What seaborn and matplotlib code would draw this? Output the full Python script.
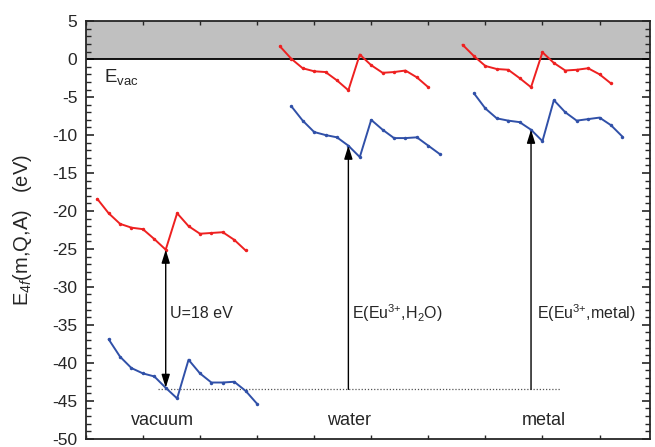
import numpy as np
import pandas as pd
import matplotlib
matplotlib.use("Agg")
import matplotlib.pyplot as plt
from matplotlib.ticker import MultipleLocator, NullFormatter
import seaborn as sns

# ---- data ----
environments = ["vacuum", "water", "metal"]
lanthanide_index = list(range(1, 15))
red_x_start = [1, 17, 33]
blue_x_start = [2, 18, 34]

vacuum_red = [-18.4, -20.3, -21.7, -22.2, -22.4, -23.7, -25.1, -20.3, -22.0, -23.0, -22.9, -22.8, -23.8, -25.2]
vacuum_blue = [-36.9, -39.2, -40.7, -41.4, -41.8, -43.3, -44.7, -39.6, -41.4, -42.6, -42.6, -42.5, -43.7, -45.4]
water_red = [1.7, 0.05, -1.2, -1.6, -1.7, -2.8, -4.1, 0.6, -0.8, -1.8, -1.7, -1.5, -2.4, -3.7]
water_blue = [-6.2, -8.1, -9.6, -10.0, -10.3, -11.4, -12.9, -8.0, -9.3, -10.4, -10.4, -10.3, -11.4, -12.5]
metal_red = [1.9, 0.4, -0.9, -1.3, -1.4, -2.5, -3.7, 0.9, -0.5, -1.5, -1.4, -1.2, -2.0, -3.2]
metal_blue = [-4.5, -6.5, -7.8, -8.1, -8.3, -9.3, -10.8, -5.4, -7.0, -8.1, -7.9, -7.7, -8.7, -10.2]

reference_level = -43.5          # dotted line (Eu3+ in vacuum)
arrow_x = [7, 23, 39]
arrow_top = [-25.1, -11.4, -9.3]
U_value = 18

red_series = [vacuum_red, water_red, metal_red]
blue_series = [vacuum_blue, water_blue, metal_blue]

rows = []
for env, rs, bs, rx0, bx0 in zip(environments, red_series, blue_series, red_x_start, blue_x_start):
    for i, n in enumerate(lanthanide_index):
        rows.append(dict(x=rx0 + n - 1, E=rs[i], env=env, series="red"))
        rows.append(dict(x=bx0 + n - 1, E=bs[i], env=env, series="blue"))
df = pd.DataFrame(rows)

# ---- plot ----
sns.set_style("ticks")
plt.rcParams["font.family"] = ["Liberation Sans", "DejaVu Sans"]
plt.rcParams["mathtext.fontset"] = "custom"
plt.rcParams["mathtext.rm"] = "Liberation Sans"
plt.rcParams["mathtext.it"] = "Liberation Sans:italic"
plt.rcParams["axes.unicode_minus"] = False

fig = plt.figure(figsize=(6.55, 4.47), dpi=100)
ax = fig.add_axes([0.131, 0.0186, 0.861, 0.934])

ax.axhspan(0, 5, color="#c0c0c0", zorder=0, lw=0)
ax.axhline(0, color="black", lw=1.3, zorder=1)

palette = {"red": "#ee2020", "blue": "#3050a8"}
for env in environments:
    sub = df[df.env == env]
    sns.lineplot(data=sub, x="x", y="E", hue="series", palette=palette,
                 estimator=None, sort=False, marker="o", markersize=2.5,
                 markeredgewidth=0, lw=1.4, legend=False, ax=ax, zorder=3)

# dotted reference line
ax.plot([6.3, 41.5], [reference_level, reference_level], ls=(0, (1, 1.5)),
        color="#555555", lw=0.9, zorder=2)

# arrows
ap = dict(arrowstyle="-|>,head_length=0.8,head_width=0.25", color="black", lw=1.0,
          shrinkA=0, shrinkB=0)
ax.annotate("", xy=(arrow_x[0], vacuum_blue[5]), xytext=(arrow_x[0], arrow_top[0]),
            arrowprops=dict(ap, arrowstyle="<|-|>,head_length=0.8,head_width=0.25"))
ax.annotate("", xy=(arrow_x[1], arrow_top[1]), xytext=(arrow_x[1], reference_level),
            arrowprops=ap)
ax.annotate("", xy=(arrow_x[2], arrow_top[2]), xytext=(arrow_x[2], reference_level),
            arrowprops=ap)

fs = 11.5
ax.text(7.4, -33.5, f"U={U_value} eV", fontsize=fs, va="center", ha="left")
ax.text(23.3, -33.4, r"E(Eu$^{\text{3+}}$,H$_2$O)", fontsize=fs, va="center", ha="left")
ax.text(39.5, -33.4, r"E(Eu$^{\text{3+}}$,metal)", fontsize=fs, va="center", ha="left")
ax.text(6.7, -47.6, "vacuum", fontsize=13, va="center", ha="center")
ax.text(23.1, -47.6, "water", fontsize=13, va="center", ha="center")
ax.text(40.1, -47.6, "metal", fontsize=13, va="center", ha="center")
ax.text(1.6, -2.3, r"E$_{\rm vac}$", fontsize=13.5, va="center", ha="left")

ax.set_xlim(0, 49.4)
ax.set_ylim(-50, 5)
ax.xaxis.set_major_locator(MultipleLocator(5))
ax.xaxis.set_major_formatter(NullFormatter())
ax.yaxis.set_major_locator(MultipleLocator(5))
ax.yaxis.set_minor_locator(MultipleLocator(1))
ax.tick_params(axis="y", which="major", direction="in", length=6, width=1.2,
               left=True, right=True, labelsize=12.5, pad=6)
ax.tick_params(axis="y", which="minor", direction="in", length=3.5, width=1.0,
               left=True, right=True)
ax.tick_params(axis="x", which="major", direction="in", length=3, width=1.0,
               top=True, bottom=True)
ax.set_xlabel("")
ax.set_ylabel(r"E$_{4f}$(m,Q,A)   (eV)", fontsize=14.5)
ax.yaxis.set_label_coords(-0.092, 0.5)
for s in ax.spines.values():
    s.set_linewidth(1.3)
    s.set_visible(True)

fig.savefig("out.png", dpi=100)
